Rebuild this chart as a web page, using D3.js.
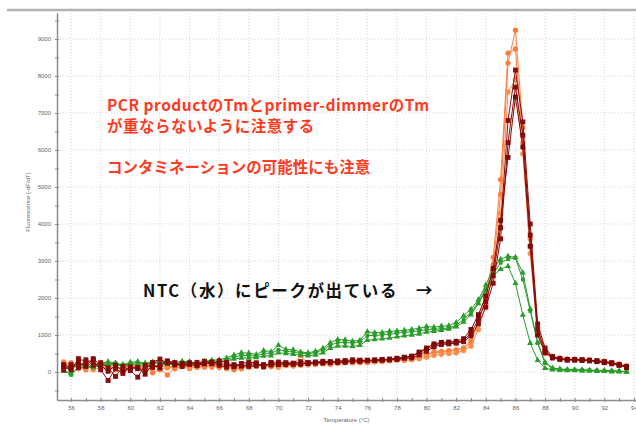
<!DOCTYPE html>
<html>
<head>
<meta charset="utf-8">
<script src="https://cdn.jsdelivr.net/npm/d3@7"></script>
<style>
  html, body { margin: 0; padding: 0; background: #fff; }
  svg { display: block; }
</style>
</head>
<body>
<svg id="chart" width="636" height="427"></svg>
<script>
// Melt curve (derivative fluorescence vs temperature)
const temps = [55.5,56,56.5,57,57.5,58,58.5,59,59.5,60,60.5,61,61.5,62,62.5,63,63.5,64,64.5,65,
  65.5,66,66.5,67,67.5,68,68.5,69,69.5,70,70.5,71,71.5,72,72.5,73,73.5,74,74.5,75,
  75.5,76,76.5,77,77.5,78,78.5,79,79.5,80,80.5,81,81.5,82,82.5,83,83.5,84,84.5,85,
  85.5,86,86.5,87,87.5,88,88.5,89,89.5,90,90.5,91,91.5,92,92.5,93,93.5];

const sampleA1 = [270,180,120,60,200,150,90,230,170,110, 190,130,-20,80,-80,120,160,140,190,130,
  170,200,150,60,120,180,150,200,140,170, 200,180,450,220,200,260,240,250,280,260,
  270,290,300,310,320,340,360,390,430,480, 540,560,580,600,640,800,1350,2000,2900,4800,
  8350,9240,6600,3600,1200,600,420,380,350,340, 330,320,300,280,250,210,160];
const sampleA2 = [180,250,90,150,110,260,180,60,140,220, 100,160,200,60,140,90,180,210,120,160,
  210,120,180,150,90,160,200,130,180,150, 190,160,200,240,210,230,260,240,270,290,
  250,280,300,290,310,330,350,370,400,460, 520,530,560,590,650,850,1400,2100,3100,5200,
  8620,8730,6200,3400,1100,560,400,370,350,350, 340,320,310,290,260,220,170];
const sampleA3 = [220,100,180,200,60,120,210,150,80,180, 140,70,130,180,110,200,140,90,160,200,
  130,160,90,140,200,130,170,160,210,130, 170,220,180,190,250,220,200,230,250,240,
  260,250,270,280,300,320,310,330,360,400, 450,480,500,520,580,700,1150,1800,2700,4300,
  7570,7900,5900,3200,1000,500,380,360,340,330, 320,310,290,270,240,200,150];

const sampleB1 = [140,60,360,280,310,60,-230,90,-40,140, 90,60,260,350,240,220,180,230,260,240,
  220,300,260,140,230,260,250,140,260,270, 250,240,280,260,270,290,280,300,310,330,
  320,310,330,330,350,370,390,420,520,610, 720,780,780,790,850,1050,1420,1900,2600,3900,
  6800,8160,6760,4000,1300,650,420,360,330,340, 330,320,300,280,250,200,130];
const sampleB2 = [60,200,120,330,180,250,110,-120,150,40, -140,180,120,200,300,260,150,200,170,290,
  250,180,130,200,180,150,170,200,190,230, 200,230,210,250,240,260,250,270,260,290,
  300,300,310,320,330,340,370,380,460,560, 680,740,760,780,820,980,1300,1750,2400,3600,
  6200,7700,6400,3700,1150,560,400,350,340,330, 330,310,300,270,240,190,150];
const sampleB3 = [200,120,250,150,360,170,20,180,30,90, 120,-60,210,110,290,190,230,250,190,220,
  270,230,200,170,160,210,220,180,230,200, 240,210,220,230,260,240,270,260,280,300,
  290,320,310,340,340,360,400,430,540,650, 760,800,810,830,900,1150,1550,2050,2800,4100,
  5800,7430,6080,3400,1000,520,380,340,320,320, 310,300,280,250,220,180,120];

const ntc1 = [150,80,200,220,160,230,280,240,200,260, 280,240,270,320,260,250,290,280,250,290,
  320,330,380,460,520,510,470,580,550,720, 610,600,540,520,560,640,790,880,870,830,
  860,1090,1060,1070,1100,1110,1130,1150,1180,1230, 1210,1240,1250,1340,1520,1700,1950,2350,2800,3050,
  3130,3100,2680,1700,800,260,110,80,70,60, 60,50,40,40,30,20,10];
const ntc2 = [60,-80,140,180,130,200,240,220,180,230, 250,210,240,280,230,230,260,250,220,260,
  290,300,340,400,450,440,430,500,510,600, 560,540,500,490,520,600,720,800,800,780,
  820,980,990,1000,1020,1050,1070,1090,1110,1150, 1150,1170,1190,1260,1420,1620,1880,2250,2650,2950,
  3050,3080,2500,1650,780,240,100,70,60,60, 50,50,40,30,30,20,10];
const ntc3 = [20,-40,110,150,120,170,210,190,160,190, 200,180,220,250,200,200,220,230,200,230,
  250,260,300,350,380,380,390,430,440,520, 500,480,450,440,460,520,640,700,700,690,
  720,860,880,900,920,950,980,1000,1030,1080, 1100,1130,1160,1220,1350,1550,1850,2200,2600,2780,
  2860,2400,1540,780,320,100,60,50,40,40, 30,30,20,20,10,10,0];

const xTickValues = [56,58,60,62,64,66,68,70,72,74,76,78,80,82,84,86,88,90,92,94];
const yTickValues = [0,1000,2000,3000,4000,5000,6000,7000,8000,9000];

const noteLines = ["PCR productのTmとprimer-dimmerのTm", "が重ならないように注意する", "コンタミネーションの可能性にも注意"];
const ntcNote = "NTC（水）にピークが出ている　→";

const svg = d3.select("#chart");
const plotLeft = 57, plotRight = 636, plotTop = 13, plotBottom = 400;

const x = d3.scaleLinear().domain([55.05, 94.14]).range([plotLeft, plotRight]);
const y = d3.scaleLinear().domain([-757, 9703]).range([plotBottom, plotTop]);

// frame line across the top
svg.append("line").attr("x1", 7).attr("x2", 636).attr("y1", 10).attr("y2", 10)
  .attr("stroke", "#b3b3b3").attr("stroke-width", 2.5);

// dotted grid
const grid = svg.append("g").attr("stroke", "#d4d4d4").attr("stroke-width", 1).attr("stroke-dasharray", "1,2");
grid.selectAll("line.v").data(xTickValues).join("line").attr("class", "v")
  .attr("x1", d => x(d)).attr("x2", d => x(d)).attr("y1", plotTop).attr("y2", plotBottom);
grid.selectAll("line.h").data(yTickValues).join("line").attr("class", "h")
  .attr("x1", plotLeft).attr("x2", plotRight).attr("y1", d => y(d)).attr("y2", d => y(d));

// axes
const axisColor = "#8c8c8c";
const plain = d3.format("d");
function styleAxis(g) {
  g.select(".domain").attr("stroke", axisColor).attr("stroke-width", 1.5);
  g.selectAll(".tick line").attr("stroke", axisColor);
  g.selectAll(".tick text").attr("fill", "#666").attr("font-size", 6)
    .attr("font-family", "Liberation Sans, Arial, sans-serif");
}
const yMinor = d3.range(-500, 9600, 1000);
const xMinor = d3.range(57, 95, 2);

const yAxisG = svg.append("g").attr("transform", `translate(${plotLeft},0)`)
  .call(d3.axisLeft(y).tickValues(yTickValues).tickFormat(plain).tickSize(2).tickPadding(4).tickSizeOuter(0));
yAxisG.selectAll(".tick line").attr("x1", -2).attr("x2", 2);
styleAxis(yAxisG);
svg.append("g").attr("transform", `translate(${plotLeft},0)`)
  .call(d3.axisLeft(y).tickValues(yMinor).tickSize(2).tickFormat("").tickSizeOuter(0))
  .call(g => g.select(".domain").remove())
  .call(g => g.selectAll(".tick line").attr("x1", -2).attr("x2", 2).attr("stroke", axisColor));

const xAxisG = svg.append("g").attr("transform", `translate(0,${plotBottom})`)
  .call(d3.axisBottom(x).tickValues(xTickValues).tickFormat(plain).tickSize(2).tickPadding(4).tickSizeOuter(0));
xAxisG.selectAll(".tick line").attr("y1", -2).attr("y2", 2);
styleAxis(xAxisG);
svg.append("g").attr("transform", `translate(0,${plotBottom})`)
  .call(d3.axisBottom(x).tickValues(xMinor).tickSize(2).tickFormat("").tickSizeOuter(0))
  .call(g => g.select(".domain").remove())
  .call(g => g.selectAll(".tick line").attr("y1", -2).attr("y2", 2).attr("stroke", axisColor));

// axis titles
svg.append("text").attr("x", (plotLeft + plotRight) / 2).attr("y", 422).attr("text-anchor", "middle")
  .attr("font-size", 6).attr("fill", "#666").attr("font-family", "Liberation Sans, Arial, sans-serif")
  .text("Temperature (°C)");
svg.append("text").attr("transform", "translate(30,202) rotate(-90)").attr("text-anchor", "middle")
  .attr("font-size", 6).attr("fill", "#666").attr("font-family", "Liberation Sans, Arial, sans-serif")
  .text("Fluorescence (-dF/dT)");

// curves
const line = d3.line().x((d, i) => x(temps[i])).y(d => y(d));
const series = [
  { values: sampleA1, color: "#ff7d3c", shape: d3.symbolCircle, size: 22 },
  { values: sampleA2, color: "#ff7d3c", shape: d3.symbolCircle, size: 22 },
  { values: sampleA3, color: "#ff8a4a", shape: d3.symbolCircle, size: 22 },
  { values: ntc1, color: "#2a9c2a", shape: d3.symbolTriangle, size: 16 },
  { values: ntc2, color: "#2a9c2a", shape: d3.symbolSquare, size: 14 },
  { values: ntc3, color: "#2a9c2a", shape: d3.symbolTriangle, size: 16 },
  { values: sampleB1, color: "#8a0c0c", shape: d3.symbolSquare, size: 24 },
  { values: sampleB2, color: "#8a0c0c", shape: d3.symbolSquare, size: 24 },
  { values: sampleB3, color: "#7e0808", shape: d3.symbolSquare, size: 24 }
];
const plot = svg.append("g");
series.forEach(s => {
  const g = plot.append("g");
  g.append("path").datum(s.values).attr("d", line).attr("fill", "none")
    .attr("stroke", s.color).attr("stroke-width", 1);
  g.selectAll("path.pt").data(s.values).join("path").attr("class", "pt")
    .attr("transform", (d, i) => `translate(${x(temps[i])},${y(d)})`)
    .attr("d", d3.symbol().type(s.shape).size(s.size))
    .attr("fill", s.color);
});

// annotations
const jp = "'Noto Sans CJK JP', 'Noto Sans', sans-serif";
const noteY = [111, 132, 173];
const noteSpacing = [0.5, 0.5, 0];
svg.append("g").selectAll("text").data(noteLines).join("text")
  .attr("x", 107).attr("y", (d, i) => noteY[i])
  .attr("letter-spacing", (d, i) => noteSpacing[i])
  .attr("font-family", jp).attr("font-weight", "bold").attr("font-size", 15.5)
  .attr("fill", "#ff3a1e").text(d => d);
svg.append("text").attr("x", 143).attr("y", 297)
  .attr("font-family", jp).attr("font-weight", "bold").attr("font-size", 16.5)
  .attr("letter-spacing", 1.6)
  .attr("fill", "#111").text(ntcNote);
</script>
</body>
</html>
